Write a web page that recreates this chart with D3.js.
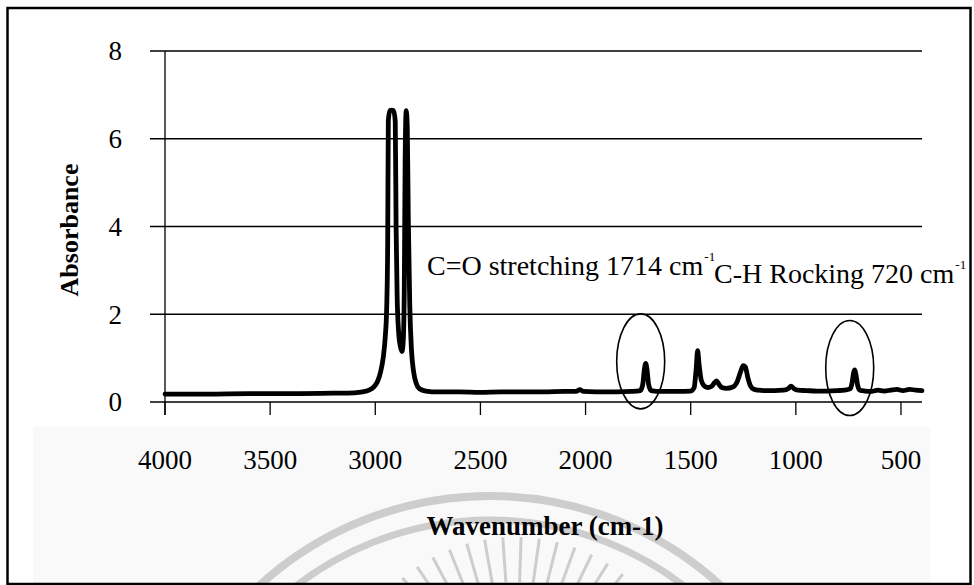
<!DOCTYPE html>
<html>
<head>
<meta charset="utf-8">
<script src="https://cdn.jsdelivr.net/npm/d3@7"></script>
<style>
  html, body { margin: 0; padding: 0; background: #fff; }
  svg { display: block; }
  text { font-family: "Liberation Serif", "Times New Roman", serif; fill: #000; }
</style>
</head>
<body>
<svg id="chart" width="974" height="585"></svg>
<script>
// FTIR spectrum: wavenumber (cm-1) vs absorbance
const wavenumber = [
  4000, 3800, 3600, 3400, 3200, 3100, 3060, 3030, 3010, 2990,
  2975, 2962, 2952, 2946, 2941, 2938, 2931, 2922, 2913, 2905,
  2901, 2896, 2889, 2880, 2873, 2867, 2862, 2858, 2853, 2848,
  2843, 2836, 2828, 2818, 2805, 2790, 2760, 2700, 2600, 2500,
  2400, 2300, 2200, 2100, 2045, 2027, 2010, 1950, 1850, 1780,
  1740, 1728, 1720, 1714, 1708, 1700, 1688, 1640, 1560, 1500,
  1484, 1474, 1467, 1460, 1450, 1438, 1420, 1400, 1385, 1377,
  1368, 1352, 1330, 1300, 1280, 1262, 1250, 1240, 1228, 1215,
  1200, 1180, 1150, 1100, 1060, 1035, 1023, 1010, 990, 950,
  900, 850, 800, 770, 742, 732, 726, 720, 714, 706,
  695, 670, 640, 610, 580, 550, 520, 490, 460, 430, 400
];
const absorbance = [
  0.18, 0.18, 0.19, 0.19, 0.20, 0.21, 0.23, 0.27, 0.33, 0.46,
  0.68, 1.02, 1.52, 2.10, 3.60, 6.40, 6.64, 6.65, 6.64, 6.40,
  4.00, 2.40, 1.60, 1.25, 1.15, 1.40, 2.60, 5.50, 6.64, 6.30,
  4.20, 2.20, 1.20, 0.70, 0.42, 0.30, 0.25, 0.23, 0.23, 0.22,
  0.23, 0.23, 0.23, 0.24, 0.24, 0.28, 0.24, 0.23, 0.23, 0.24,
  0.26, 0.40, 0.75, 0.88, 0.75, 0.40, 0.26, 0.24, 0.24, 0.25,
  0.32, 0.75, 1.17, 0.85, 0.50, 0.38, 0.33, 0.36, 0.45, 0.48,
  0.42, 0.33, 0.31, 0.34, 0.45, 0.70, 0.83, 0.80, 0.55, 0.36,
  0.29, 0.27, 0.26, 0.26, 0.27, 0.31, 0.36, 0.31, 0.27, 0.26,
  0.25, 0.25, 0.26, 0.27, 0.30, 0.45, 0.65, 0.73, 0.62, 0.38,
  0.27, 0.25, 0.24, 0.27, 0.25, 0.27, 0.29, 0.26, 0.29, 0.27, 0.26
];

const xTickValues = [4000, 3500, 3000, 2500, 2000, 1500, 1000, 500];
const yTickValues = [0, 2, 4, 6, 8];

// annotated bands: label text, band position (cm-1), peak absorbance
const bandLabels = ["C=O stretching 1714 cm", "C-H Rocking 720 cm"];
const bandPositions = [1714, 720];
const bandPeaks = [0.88, 0.73];

const xTitle = "Wavenumber (cm-1)";
const yTitle = "Absorbance";

const svg = d3.select("#chart");

const x = d3.scaleLinear().domain([4000, 400]).range([165, 922]);
const y = d3.scaleLinear().domain([0, 8]).range([402, 51]);

// light panel under the axis
svg.append("rect")
  .attr("x", 33).attr("y", 427).attr("width", 897).attr("height", 157)
  .attr("fill", "#f9f9f9");

// faint seal in the background
const seal = svg.append("g").attr("fill", "none").attr("stroke", "#cdcdcd");
const sealArc = d3.arc().startAngle(-Math.PI / 2).endAngle(Math.PI / 2);
seal.append("path")
  .attr("transform", "translate(490,838)")
  .attr("d", sealArc({ innerRadius: 342, outerRadius: 342 }))
  .attr("stroke-width", 8);
seal.append("path")
  .attr("transform", "translate(490,838)")
  .attr("d", sealArc({ innerRadius: 318, outerRadius: 318 }))
  .attr("stroke-width", 7);
const rayAngles = d3.range(-40, 41, 6);
seal.selectAll("line.ray").data(rayAngles).join("line")
  .attr("class", "ray")
  .attr("stroke-width", 3)
  .attr("x1", a => 515 + 130 * Math.sin(a * Math.PI / 180))
  .attr("y1", a => 712 - 130 * Math.cos(a * Math.PI / 180))
  .attr("x2", a => 515 + 175 * Math.sin(a * Math.PI / 180))
  .attr("y2", a => 712 - 175 * Math.cos(a * Math.PI / 180));

// white page over the seal above the panel
svg.append("rect")
  .attr("x", 9).attr("y", 9).attr("width", 960).attr("height", 418)
  .attr("fill", "#fff");

// horizontal gridlines (extend left as tick marks)
svg.append("g")
  .selectAll("line").data(yTickValues).join("line")
  .attr("x1", 150).attr("x2", x(400))
  .attr("y1", d => y(d)).attr("y2", d => y(d))
  .attr("stroke", "#000").attr("stroke-width", 1.3);

// y axis line
svg.append("line")
  .attr("x1", x(4000)).attr("x2", x(4000))
  .attr("y1", y(8)).attr("y2", y(0) + 13)
  .attr("stroke", "#000").attr("stroke-width", 1.3);

// x axis ticks
svg.append("g")
  .selectAll("line").data(xTickValues).join("line")
  .attr("x1", d => x(d)).attr("x2", d => x(d))
  .attr("y1", y(0)).attr("y2", y(0) + 13)
  .attr("stroke", "#000").attr("stroke-width", 1.3);

// tick labels
svg.append("g")
  .selectAll("text").data(xTickValues).join("text")
  .attr("x", d => x(d)).attr("y", 469)
  .attr("text-anchor", "middle")
  .attr("font-size", 27)
  .text(d => d);

svg.append("g")
  .selectAll("text").data(yTickValues).join("text")
  .attr("x", 122).attr("y", d => y(d))
  .attr("dy", "0.35em")
  .attr("text-anchor", "end")
  .attr("font-size", 27)
  .text(d => d);

// axis titles
svg.append("text")
  .attr("x", 545).attr("y", 535)
  .attr("text-anchor", "middle")
  .attr("font-size", 27).attr("font-weight", "bold")
  .text(xTitle);

svg.append("text")
  .attr("transform", "translate(78,230) rotate(-90)")
  .attr("text-anchor", "middle")
  .attr("font-size", 26).attr("font-weight", "bold")
  .text(yTitle);

// spectrum
const points = wavenumber.map((w, i) => [w, absorbance[i]]);
const line = d3.line()
  .x(d => x(d[0]))
  .y(d => y(d[1]))
  .curve(d3.curveMonotoneX);

svg.append("path")
  .datum(points)
  .attr("d", line)
  .attr("fill", "none")
  .attr("stroke", "#000")
  .attr("stroke-width", 4.8)
  .attr("stroke-linejoin", "round")
  .attr("stroke-linecap", "round");

// band annotations: ellipses round the peaks
svg.append("g")
  .selectAll("ellipse").data(bandPositions).join("ellipse")
  .attr("cx", d => x(d) - 5)
  .attr("cy", (d, i) => y(bandPeaks[i]) - 2)
  .attr("rx", 24).attr("ry", 47.5)
  .attr("fill", "none")
  .attr("stroke", "#000")
  .attr("stroke-width", 1.6);

const labelPos = [[427, 275], [714, 283]];
bandLabels.forEach((t, i) => {
  const txt = svg.append("text")
    .attr("x", labelPos[i][0]).attr("y", labelPos[i][1])
    .attr("font-size", 28);
  txt.append("tspan").text(t);
  txt.append("tspan")
    .attr("dy", -14).attr("dx", 1)
    .attr("font-size", 13)
    .text("-1");
});

// outer frame
svg.append("rect")
  .attr("x", 7.5).attr("y", 8).attr("width", 963).attr("height", 576)
  .attr("fill", "none")
  .attr("stroke", "#000")
  .attr("stroke-width", 2.5);
</script>
</body>
</html>
